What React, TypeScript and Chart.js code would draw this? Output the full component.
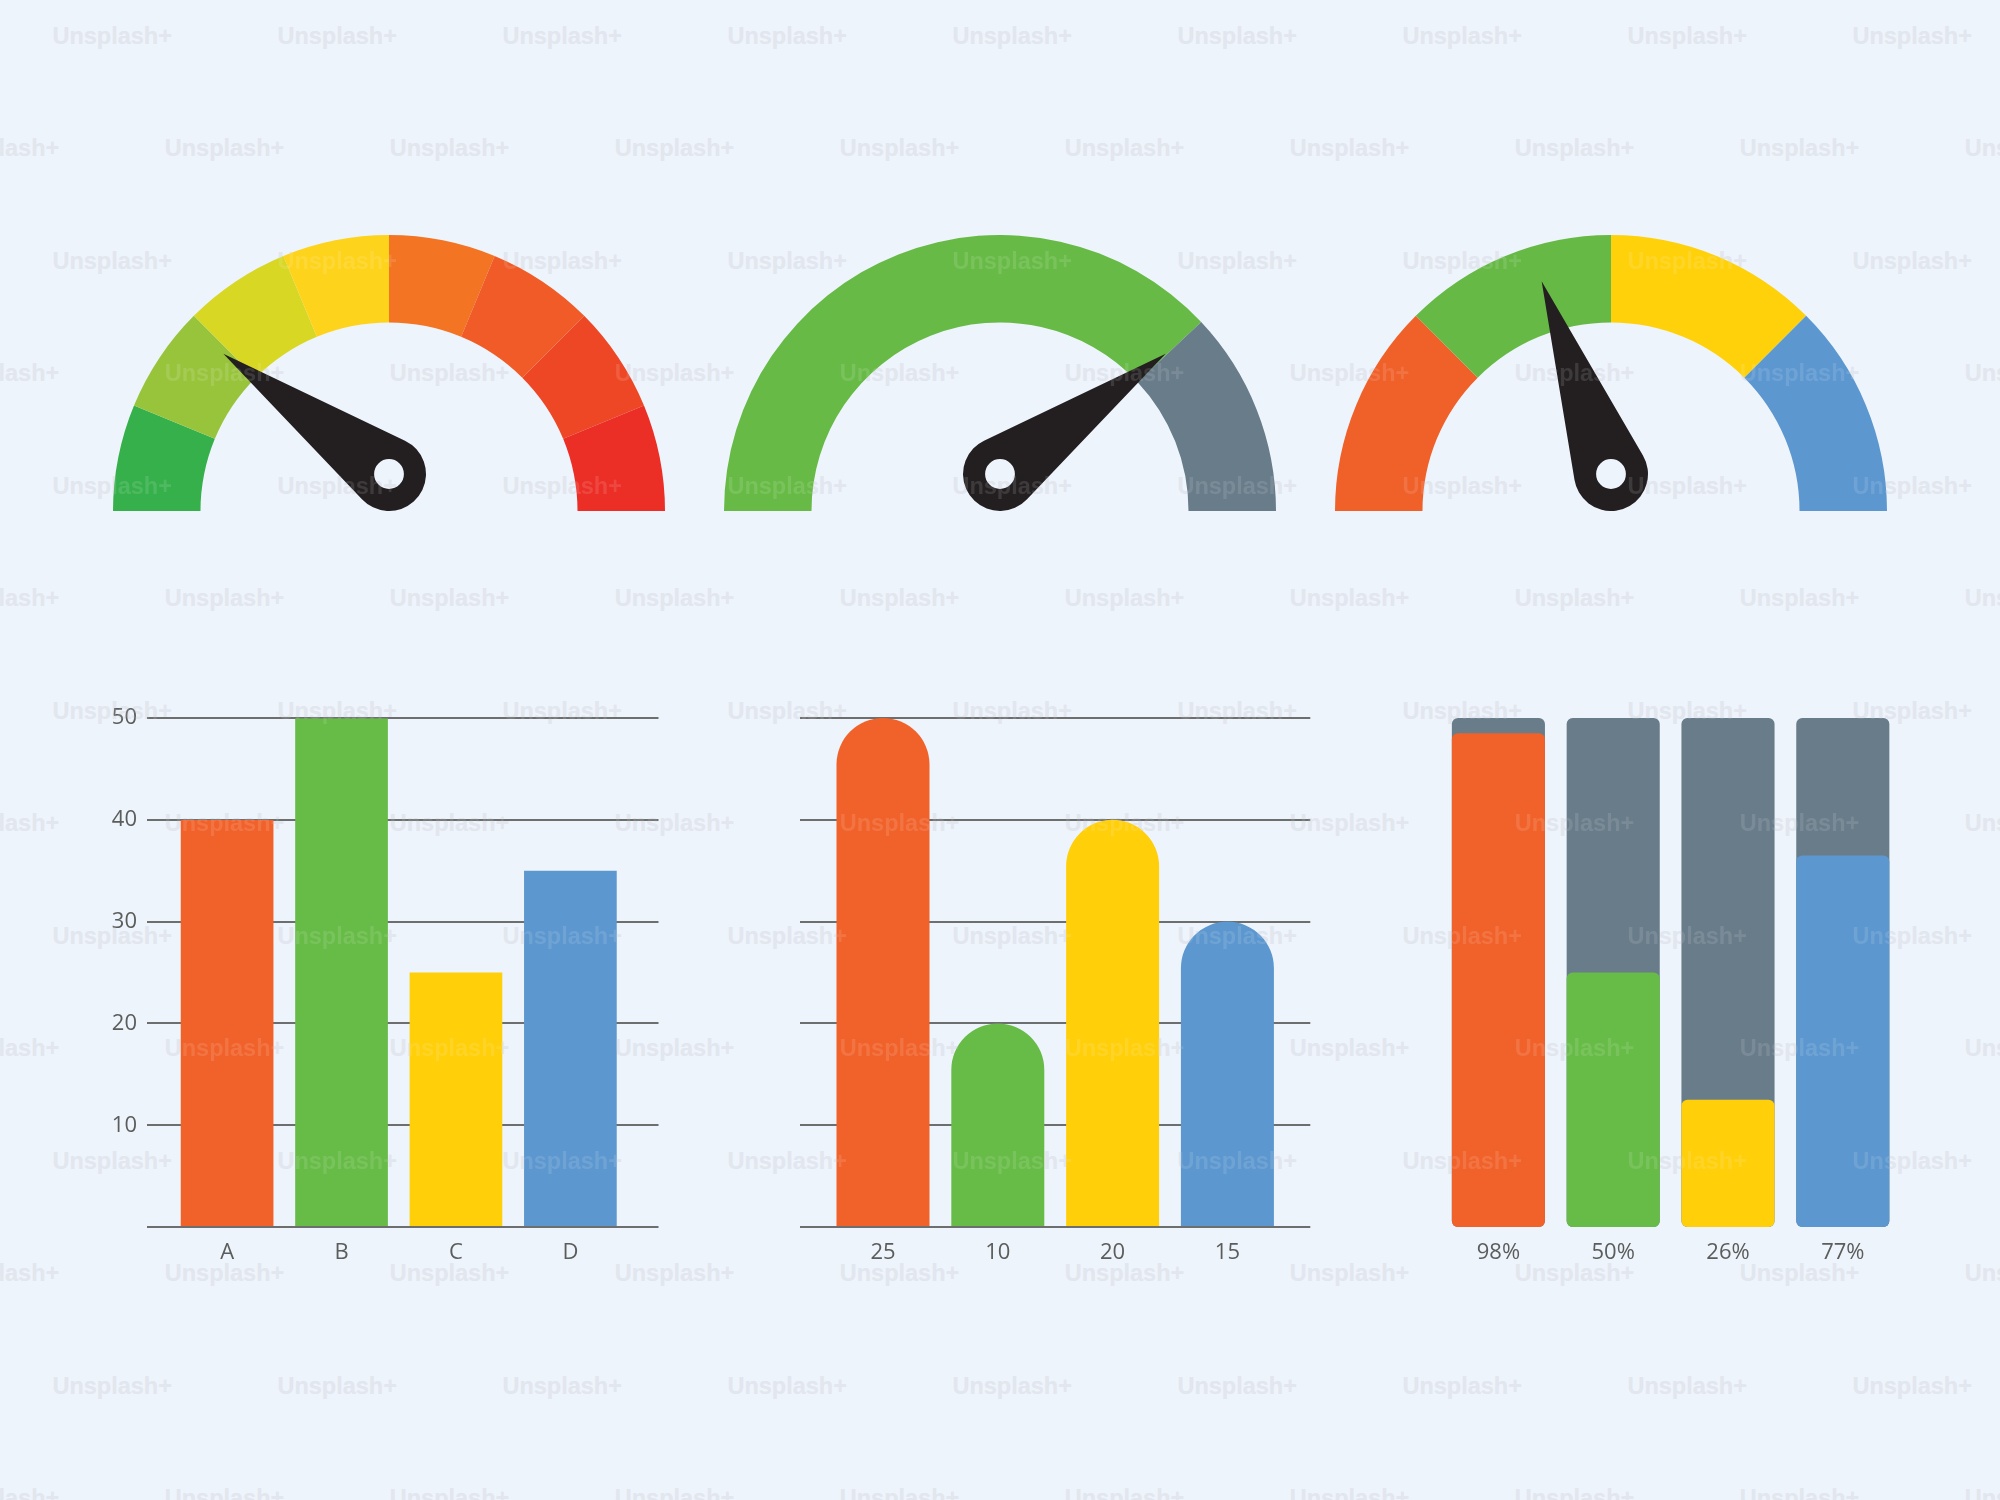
import React, { useEffect, useRef } from "react";
import { Chart, registerables } from "chart.js";

Chart.register(...registerables);

const PAGE_BG = "#EEF4FB";
const TEXT_COLOR = "#5B5C5C";
const GRID_COLOR = "#6D6E6E";
const NEEDLE_COLOR = "#231F20";
const FONT = "'Open Sans', 'DejaVu Sans', sans-serif";

Chart.defaults.font.family = FONT;
Chart.defaults.color = TEXT_COLOR;

// --- gauges (top row) ---
const gauge1Segments = [1, 1, 1, 1, 1, 1, 1, 1];
const gauge1Colors = ["#36B04A", "#98C43C", "#D8D724", "#FED31B", "#F37422", "#F05B27", "#EE4725", "#EB2E26"];
const gauge1Needle = 20; // of 100

const gauge2Segments = [76, 24];
const gauge2Colors = ["#67BA46", "#687C89"];
const gauge2Needle = 80;

const gauge3Segments = [1, 1, 1, 1];
const gauge3Colors = ["#F06029", "#67B946", "#FFD10B", "#5C97D0"];
const gauge3Needle = 39;

// --- bottom row ---
const barColors = ["#F1612A", "#67BB47", "#FFCF0A", "#5C97CF"];
const trackColor = "#687C89";

const barCategories = ["A", "B", "C", "D"];
const barValues = [40, 50, 25, 35];
const barYTicks = [0, 10, 20, 30, 40, 50];

const roundLabels = ["25", "10", "20", "15"];
const roundValues = [50, 20, 40, 30];

const progressLabels = ["98%", "50%", "26%", "77%"];
const progressValues = [97, 50, 25, 73];
const progressTrack = [100, 100, 100, 100];

const WATERMARK = "Unsplash+";

// needle drawn on top of the half doughnut, pivot just above the baseline
const makeNeedle = (value: number, max: number) => ({
  id: "needle",
  afterDatasetsDraw(chart: any) {
    const arc: any = chart.getDatasetMeta(0).data[0];
    if (!arc) return;
    const { x, y, outerRadius } = arc.getProps(["x", "y", "outerRadius"], true);
    const ctx = chart.ctx;
    const hubR = outerRadius * 0.134;
    const holeR = outerRadius * 0.054;
    const len = outerRadius * 0.742;
    const hx = x;
    const hy = y - hubR;
    const a = Math.PI + (Math.PI * value) / max;
    const tx = hx + len * Math.cos(a);
    const ty = hy + len * Math.sin(a);
    const b = Math.acos(hubR / len);
    ctx.save();
    ctx.beginPath();
    ctx.moveTo(tx, ty);
    ctx.arc(hx, hy, hubR, a + b, a - b + Math.PI * 2, false);
    ctx.closePath();
    ctx.moveTo(hx + holeR, hy);
    ctx.arc(hx, hy, holeR, 0, Math.PI * 2, true);
    ctx.fillStyle = NEEDLE_COLOR;
    ctx.fill("evenodd");
    ctx.restore();
  },
});

const gaugeConfig = (segments: number[], colors: string[], needle: number): any => ({
  type: "doughnut",
  data: {
    labels: segments.map((_, i) => String(i + 1)),
    datasets: [{ data: segments, backgroundColor: colors, borderWidth: 0 }],
  },
  options: {
    responsive: true,
    maintainAspectRatio: false,
    animation: false,
    events: [],
    rotation: -90,
    circumference: 180,
    cutout: "68.3%",
    layout: { padding: 0 },
    plugins: { legend: { display: false }, tooltip: { enabled: false } },
  },
  plugins: [makeNeedle(needle, 100)],
});

const tickFont = { size: 22, family: FONT };

const indexAxis = (labels: string[], min: number, max: number) => ({
  type: "linear",
  min,
  max,
  offset: false,
  grid: { display: false, offset: false },
  border: { display: false },
  afterBuildTicks: (scale: any) => {
    scale.ticks = labels.map((_, i) => ({ value: i }));
  },
  afterFit: (scale: any) => {
    scale.height = 50;
  },
  ticks: {
    color: TEXT_COLOR,
    font: tickFont,
    padding: 5,
    autoSkip: false,
    maxRotation: 0,
    callback: (_v: any, i: number) => labels[i],
  },
});

const valueAxis = (showLabels: boolean, width: number) => ({
  min: 0,
  max: 50,
  afterBuildTicks: (scale: any) => {
    scale.ticks = barYTicks.map((v) => ({ value: v }));
  },
  afterFit: (scale: any) => {
    scale.width = width;
  },
  grid: { color: GRID_COLOR, lineWidth: 2, drawTicks: false },
  border: { display: false },
  ticks: {
    display: showLabels,
    color: TEXT_COLOR,
    font: tickFont,
    padding: 10,
    callback: (v: any) => (v === 0 ? "" : String(v)),
  },
});

const baseOptions = {
  responsive: true,
  maintainAspectRatio: false,
  animation: false,
  events: [],
  plugins: { legend: { display: false }, tooltip: { enabled: false } },
};

const barConfig = (): any => ({
  type: "bar",
  data: {
    datasets: [
      {
        data: barValues.map((v, i) => ({ x: i, y: v })),
        backgroundColor: barColors,
        borderWidth: 0,
        barPercentage: 0.81,
        categoryPercentage: 1,
      },
    ],
  },
  options: {
    ...baseOptions,
    layout: { padding: { top: 18, right: 12, left: 0, bottom: 0 } },
    scales: { x: indexAxis(barCategories, -0.7, 3.77), y: valueAxis(true, 60) },
  },
});

const roundConfig = (): any => ({
  type: "bar",
  data: {
    datasets: [
      {
        data: roundValues.map((v, i) => ({ x: i, y: v })),
        backgroundColor: barColors,
        borderWidth: 0,
        borderRadius: { topLeft: 200, topRight: 200, bottomLeft: 0, bottomRight: 0 },
        barPercentage: 0.81,
        categoryPercentage: 1,
      },
    ],
  },
  options: {
    ...baseOptions,
    layout: { padding: { top: 18, right: 12, left: 0, bottom: 0 } },
    scales: { x: indexAxis(roundLabels, -0.723, 3.722), y: valueAxis(false, 0) },
  },
});

const progressConfig = (): any => ({
  type: "bar",
  data: {
    labels: progressLabels,
    datasets: [
      {
        data: progressValues,
        backgroundColor: barColors,
        borderWidth: 0,
        borderRadius: 6,
        borderSkipped: false,
        barPercentage: 0.811,
        categoryPercentage: 1,
      },
      {
        data: progressTrack,
        backgroundColor: trackColor,
        borderWidth: 0,
        borderRadius: 6,
        borderSkipped: false,
        barPercentage: 0.811,
        categoryPercentage: 1,
      },
    ],
  },
  options: {
    ...baseOptions,
    layout: { padding: { top: 18, right: 0, left: 0, bottom: 0 } },
    scales: {
      x: {
        stacked: true,
        grid: { display: false },
        border: { display: false },
        afterFit: (scale: any) => {
          scale.height = 50;
        },
        ticks: { color: TEXT_COLOR, font: tickFont, padding: 5, maxRotation: 0 },
      },
      y: { display: false, min: 0, max: 100 },
    },
  },
});

const ChartBox: React.FC<{ left: number; top: number; width: number; height: number; make: () => any }> = ({
  left,
  top,
  width,
  height,
  make,
}) => {
  const canvasRef = useRef<HTMLCanvasElement>(null);

  useEffect(() => {
    if (!canvasRef.current) return;
    const chart = new Chart(canvasRef.current, make());
    return () => chart.destroy();
  }, []);

  return (
    <div style={{ position: "absolute", left, top, width, height, zIndex: 1 }}>
      <canvas ref={canvasRef} />
    </div>
  );
};

// faint stock-photo watermark grid
const Watermarks: React.FC<{ color: string; z: number }> = ({ color, z }) => {
  const items: React.ReactNode[] = [];
  for (let row = 0; row < 14; row++) {
    const odd = row % 2 === 1;
    const count = odd ? 10 : 9;
    for (let col = 0; col < count; col++) {
      const x = (odd ? -0.5 : 112.2) + 225 * col;
      const y = 35.7 + 112.5 * row;
      items.push(
        <span
          key={`${row}-${col}`}
          style={{
            position: "absolute",
            left: x,
            top: y,
            transform: "translate(-50%, -50%)",
            font: "bold 23.5px 'Liberation Sans', Arial, sans-serif",
            color,
            whiteSpace: "nowrap",
            zIndex: z,
            pointerEvents: "none",
          }}
        >
          {WATERMARK}
        </span>
      );
    }
  }
  return <>{items}</>;
};

const App: React.FC = () => {
  const R = 276;
  const baseY = 510.7;
  return (
    <div
      style={{
        position: "absolute",
        left: 0,
        top: 0,
        width: 2000,
        height: 1500,
        overflow: "hidden",
        background: PAGE_BG,
      }}
    >
      <Watermarks color="rgb(222,227,236)" z={0} />
      <ChartBox left={388.5 - R} top={baseY - R} width={2 * R} height={R}
        make={() => gaugeConfig(gauge1Segments, gauge1Colors, gauge1Needle)} />
      <ChartBox left={1000 - R} top={baseY - R} width={2 * R} height={R}
        make={() => gaugeConfig(gauge2Segments, gauge2Colors, gauge2Needle)} />
      <ChartBox left={1611 - R} top={baseY - R} width={2 * R} height={R}
        make={() => gaugeConfig(gauge3Segments, gauge3Colors, gauge3Needle)} />
      <ChartBox left={86.7} top={695} width={583.5} height={582} make={barConfig} />
      <ChartBox left={799.7} top={700} width={522.3} height={577} make={roundConfig} />
      <ChartBox left={1441.3} top={700} width={459.2} height={577} make={progressConfig} />
      <Watermarks color="rgba(255,255,255,0.12)" z={2} />
    </div>
  );
};

export default App;
